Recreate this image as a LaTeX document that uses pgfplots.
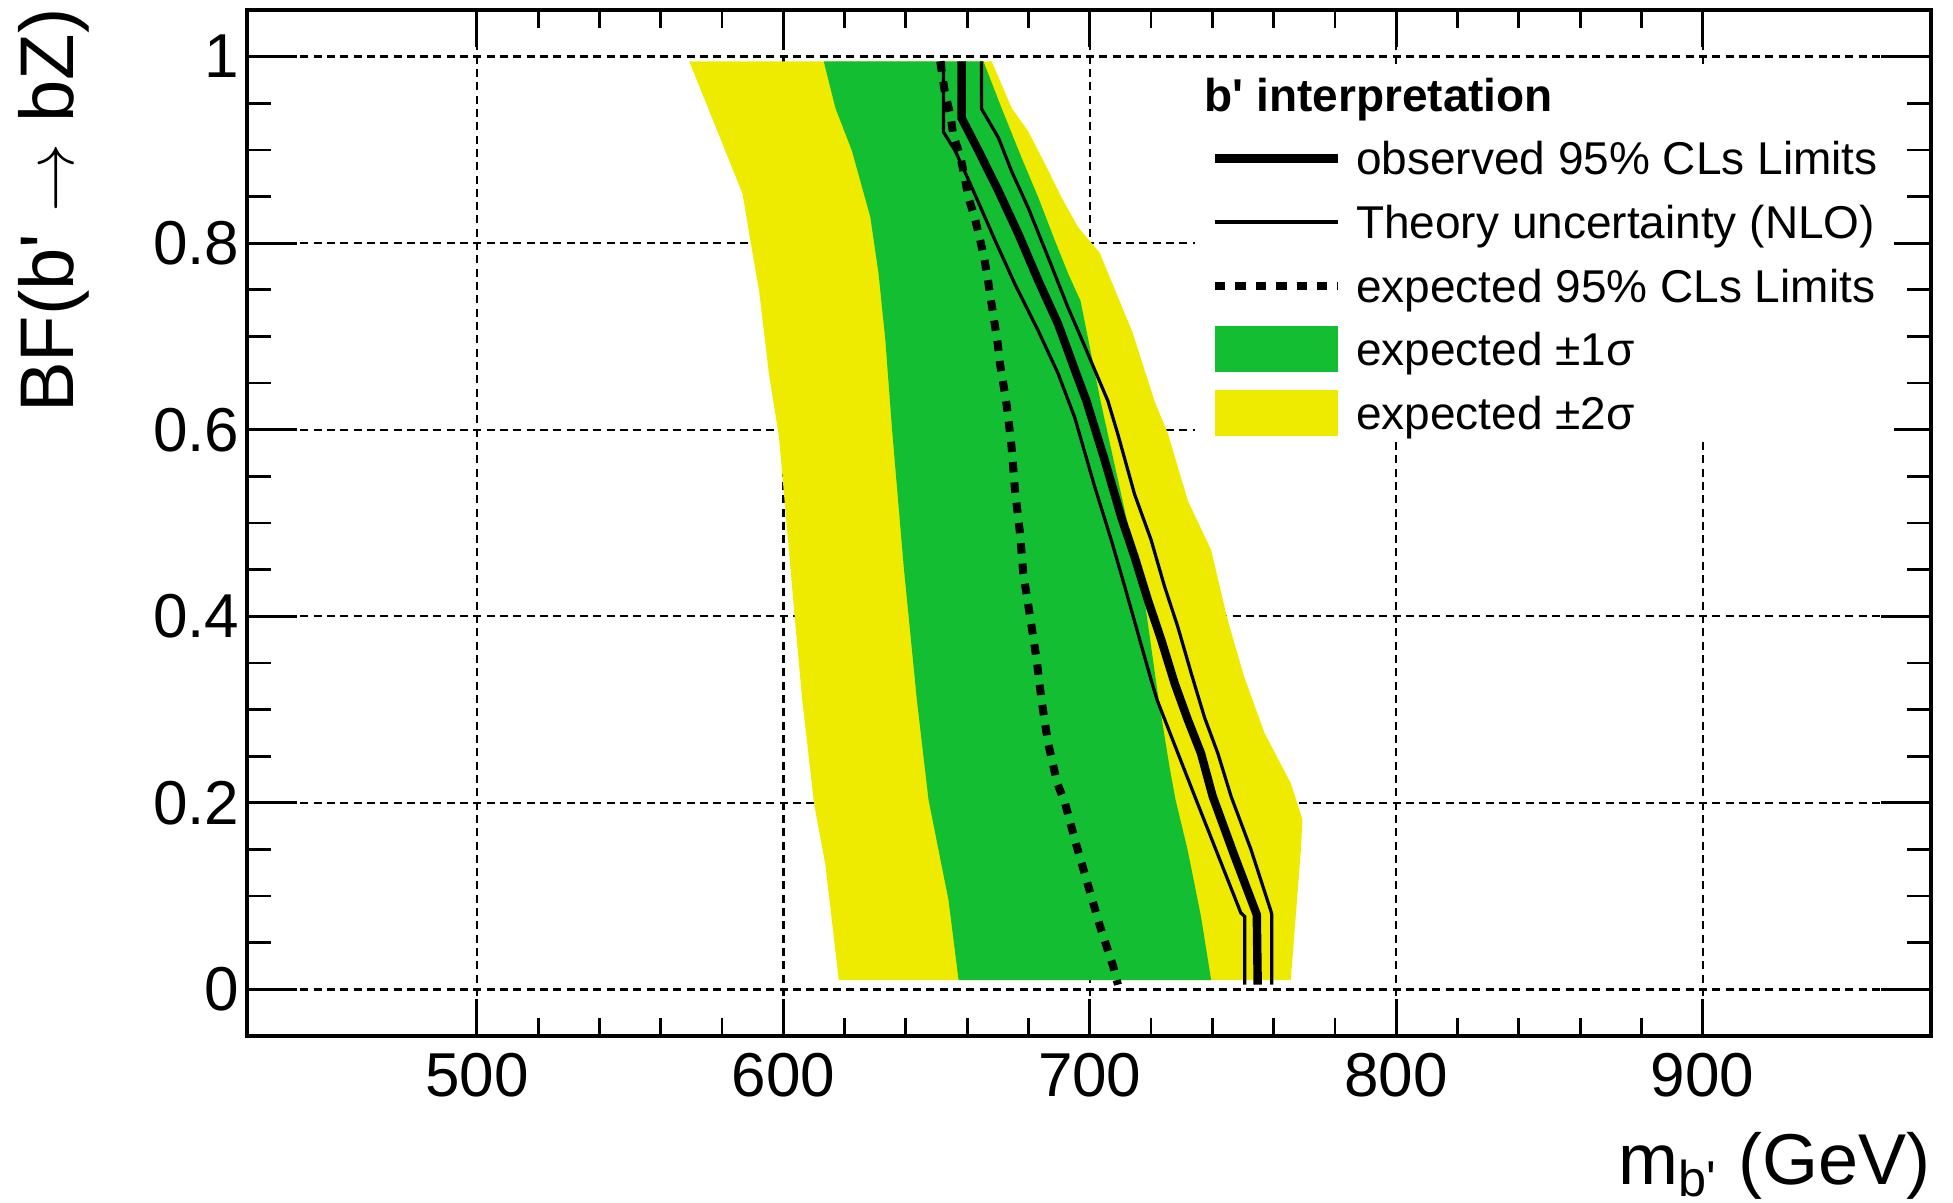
\documentclass[border=0pt]{standalone}
\usepackage{pgfplots}
\pgfplotsset{compat=1.18}
\usepackage{fontspec}
\setmainfont{Liberation Sans}
\definecolor{ygreen}{RGB}{20,190,50}
\definecolor{yyellow}{RGB}{238,235,0}
\pgfplotsset{
  linelegend/.style={legend image code/.code={\draw[##1] (0pt,0pt) -- (30.75pt,0pt);}},
  arealegend/.style={legend image code/.code={\fill[##1] (0pt,-5.75pt) rectangle (30.75pt,5.75pt);}},
}
\begin{document}
\begin{tikzpicture}
\begin{axis}[
  name=ax, scale only axis, width=421pt, height=256.5pt,
  xmin=425, xmax=974.5, ymin=-0.05, ymax=1.05,
  xtick={500,600,700,800,900}, ytick={0,0.2,0.4,0.6,0.8,1},
  minor x tick num=4, minor y tick num=3,
  tick align=inside, tick pos=both,
  tick style={black, line width=0.7pt},
  x tick style={/pgfplots/major tick length=9.25pt, /pgfplots/minor tick length=4.5pt},
  y tick style={/pgfplots/major tick length=12.5pt, /pgfplots/minor tick length=6pt},
  axis line style={line width=0.8pt},
  grid=major,
  major grid style={black, line width=0.6pt, dash pattern=on 2pt off 1.33pt},
  /pgf/number format/assume math mode=true,
  ticklabel style={font=\fontsize{15.5}{18}\selectfont},
  xticklabel style={inner sep=0pt, anchor=north, yshift=-4.2pt},
  yticklabel style={inner sep=0pt, anchor=east, xshift=-1.75pt},
  xlabel={m\textsubscript{b\textquotesingle} (GeV)},
  ylabel={BF(b\textquotesingle{} $\rightarrow$ bZ)},
  every axis x label/.style={at={(axis description cs:1,0)}, anchor=base east, inner sep=0pt, yshift=-37pt, font=\fontsize{18}{21}\selectfont},
  every axis y label/.style={at={(axis description cs:-0.1031,1.0023)}, rotate=90, anchor=base east, inner sep=0pt, font=\fontsize{19}{22}\selectfont},
  legend cell align=left,
  legend style={at={(rel axis cs:0.5623,0.943)}, anchor=north west, draw=none, fill=white,
    inner xsep=4pt, inner ysep=0.5pt, row sep=4.1pt, column sep=3.5pt,
    font=\fontsize{11.5}{13.8}\selectfont,
    nodes={inner sep=0pt, text height=10pt, text depth=1.8pt}},
]
% expected +-2 sigma
\addplot[fill=yyellow, draw=none, forget plot] coordinates {
 (618.1,0.01) (613.8,0.132) (610,0.2) (606.2,0.31) (603.7,0.4) (598.6,0.592)
 (595.3,0.66) (592.1,0.749) (589.4,0.8) (586.7,0.853) (569.3,0.995)
 (668,0.995) (674.5,0.945) (679.9,0.92) (685.4,0.885) (690.8,0.849) (696.2,0.817)
 (703.2,0.79) (714,0.704) (721.1,0.631) (725.5,0.596) (732,0.524) (739.6,0.471)
 (745,0.396) (750.4,0.335) (757,0.275) (765.6,0.221) (769.4,0.182) (768.9,0.15)
 (767.2,0.078) (765.6,0.01)
} -- cycle;
% expected +-1 sigma
\addplot[fill=ygreen, draw=none, forget plot] coordinates {
 (657.2,0.01) (653.9,0.096) (647.4,0.203) (643.6,0.31) (639.3,0.453) (635.5,0.6)
 (633.3,0.696) (631.1,0.767) (628.4,0.828) (622.4,0.899) (617,0.945) (613.2,0.995)
 (665.3,0.995) (671.2,0.945) (677.7,0.892) (683.2,0.849) (688.6,0.803) (693,0.767)
 (697,0.738) (703.5,0.631) (717.9,0.417) (722.5,0.31) (726,0.239) (728,0.203)
 (731.9,0.15) (736.3,0.078) (739.6,0.01)
} -- cycle;
% expected limit
\addplot[black, no markers, line width=2pt, dash pattern=on 2.6pt off 2.5pt, forget plot] coordinates {
 (651.2,0.995) (652.8,0.96) (654.5,0.938) (655.5,0.915) (657.7,0.894) (659.1,0.872)
 (660.4,0.849) (662.4,0.828) (664.2,0.804) (665.6,0.783) (666.7,0.762) (667.8,0.738)
 (668.9,0.715) (669.9,0.694) (670.7,0.671) (671.8,0.649) (672.9,0.626) (673.7,0.604)
 (674.5,0.581) (675.6,0.535) (677.2,0.49) (678.3,0.446) (680.5,0.4) (682.6,0.355)
 (684.3,0.309) (686.4,0.264) (689.4,0.221) (691.9,0.2) (695.6,0.155) (699.5,0.111)
 (703.3,0.068) (707.6,0.025) (709.2,0.005)
};
% theory low
\addplot[black, no markers, line width=0.8pt, forget plot] coordinates {
 (652.3,0.995) (652.3,0.919) (656.1,0.899) (661.5,0.86) (669.1,0.803) (675.6,0.756)
 (683.2,0.706) (689.7,0.66) (695.1,0.613) (701.6,0.539) (707,0.482) (711.4,0.432)
 (715.7,0.382) (720,0.332) (722,0.31) (734.5,0.205) (749.3,0.082) (750.6,0.078)
 (750.6,0.005)
};
% theory high
\addplot[black, no markers, line width=0.8pt, forget plot] coordinates {
 (664.7,0.995) (664.7,0.944) (670.2,0.913) (674.5,0.877) (679.9,0.838) (686.4,0.785)
 (692.9,0.731) (696.2,0.706) (705.9,0.631) (709.1,0.596) (714.6,0.531) (720,0.482)
 (724.4,0.432) (728.7,0.389) (733.1,0.339) (737.4,0.292) (741.8,0.253) (746.1,0.207)
 (752.6,0.15) (759.1,0.084) (759.4,0.08) (759.4,0.005)
};
% observed
\addplot[black, no markers, line width=2.1pt, forget plot] coordinates {
 (658.2,0.995) (658.2,0.934) (663.7,0.899) (670.2,0.856) (676.7,0.81) (683.2,0.76)
 (689.7,0.713) (695.6,0.66) (698.9,0.631) (704.9,0.567) (710.3,0.506) (714.6,0.464)
 (719,0.417) (723.3,0.375) (727.7,0.328) (732,0.289) (736.3,0.253) (740.1,0.207)
 (747,0.145) (754.5,0.08) (754.8,0.005)
};
\addlegendimage{empty legend}
\addlegendentry{\hspace*{-37.85pt}\textbf{b\textquotesingle{} interpretation}}
\addlegendimage{black, line width=2.1pt, linelegend}
\addlegendentry{observed 95\% CLs Limits}
\addlegendimage{black, line width=0.8pt, linelegend}
\addlegendentry{Theory uncertainty (NLO)}
\addlegendimage{black, line width=2pt, dash pattern=on 2.6pt off 2.5pt, linelegend}
\addlegendentry{expected 95\% CLs Limits}
\addlegendimage{fill=ygreen, draw=none, arealegend}
\addlegendentry{expected ±1σ}
\addlegendimage{fill=yyellow, draw=none, arealegend}
\addlegendentry{expected ±2σ}
\end{axis}
\pgfresetboundingbox
\path[use as bounding box] ([xshift=-61.75pt,yshift=-41.5pt]ax.south west) rectangle ([xshift=5.5pt,yshift=2.5pt]ax.north east);
\end{tikzpicture}
\end{document}
